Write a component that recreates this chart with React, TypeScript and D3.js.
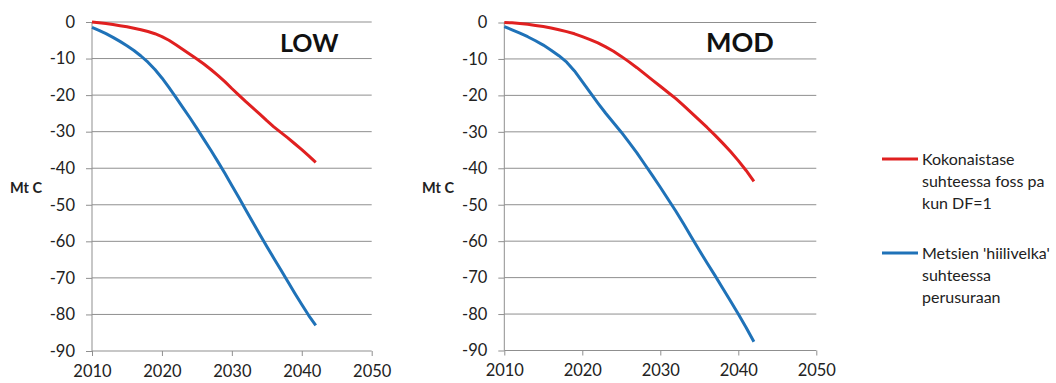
import React, { useEffect, useRef } from 'react'
import { axisBottom, axisLeft, line, scaleLinear, select } from 'd3'

const years = [
  2010, 2011, 2012, 2013, 2014, 2015, 2016, 2017, 2018, 2019, 2020,
  2021, 2022, 2023, 2024, 2025, 2026, 2027, 2028, 2029, 2030, 2031,
  2032, 2033, 2034, 2035, 2036, 2037, 2038, 2039, 2040, 2041, 2042,
]

// LOW scenario
const lowTotal = [
  0, -0.2, -0.4, -0.7, -1.0, -1.3, -1.7, -2.1, -2.6, -3.2, -4.0,
  -5.0, -6.2, -7.5, -8.8, -10.1, -11.5, -13.0, -14.6, -16.3, -18.2, -20.0,
  -21.8, -23.5, -25.2, -27.0, -28.7, -30.2, -31.7, -33.3, -34.9, -36.6, -38.4,
]
const lowDebt = [
  -1.5, -2.3, -3.2, -4.2, -5.3, -6.5, -7.8, -9.3, -11.0, -13.0, -15.3,
  -17.9, -20.6, -23.4, -26.2, -29.1, -32.1, -35.1, -38.2, -41.4, -44.7, -48.0,
  -51.4, -54.8, -58.1, -61.4, -64.6, -67.8, -71.0, -74.2, -77.3, -80.3, -83.0,
]

// MOD scenario
const modTotal = [
  0, -0.1, -0.3, -0.5, -0.8, -1.1, -1.5, -2.0, -2.5, -3.1, -3.9,
  -4.7, -5.6, -6.7, -7.9, -9.3, -10.8, -12.4, -14.1, -15.8, -17.5, -19.2,
  -20.9, -22.8, -24.8, -26.8, -28.8, -30.9, -33.1, -35.4, -37.9, -40.6, -43.6,
]
const modDebt = [
  -1.1, -2.0, -2.9, -3.9, -5.0, -6.2, -7.6, -9.1, -10.9, -13.3, -16.2,
  -19.2, -22.1, -24.9, -27.5, -30.1, -32.9, -35.8, -38.9, -42.0, -45.2, -48.5,
  -51.8, -55.3, -58.9, -62.5, -66.0, -69.4, -72.9, -76.4, -80.0, -83.7, -87.6,
]

const xTicks = [2010, 2020, 2030, 2040, 2050]
const yTicks = [0, -10, -20, -30, -40, -50, -60, -70, -80, -90]

const legendTotal = ['Kokonaistase', 'suhteessa foss pa', 'kun DF=1']
const legendDebt = ["Metsien 'hiilivelka'", 'suhteessa', 'perusuraan']

const RED = '#e02020'
const BLUE = '#1f72b8'
const GRID = '#8f8f8f'
const FONT = 'Lato, "Open Sans", sans-serif'

const App = () => {
  const ref = useRef<SVGSVGElement>(null)

  useEffect(() => {
    const svg = select(ref.current)
    svg.selectAll('*').remove()

    const panel = (title: string, total: number[], debt: number[], x0: number, x1: number, y0: number, y1: number, labelX: number, titleX: number, titleSize: number) => {
      const x = scaleLinear().domain([2010, 2050]).range([x0, x1])
      const y = scaleLinear().domain([0, -90]).range([y0, y1])
      const g = svg.append('g')

      // grid
      g.selectAll('.grid')
        .data(yTicks.filter((d) => d !== -90))
        .enter()
        .append('line')
        .attr('x1', x0)
        .attr('x2', x1)
        .attr('y1', (d) => y(d))
        .attr('y2', (d) => y(d))
        .attr('stroke', GRID)
        .attr('stroke-width', 1)

      const ya = g.append('g')
        .attr('transform', `translate(${x0},0)`)
        .call(axisLeft(y).tickValues(yTicks).tickSize(6).tickPadding(11).tickFormat((d) => String(d)))
      ya.select('.domain').attr('stroke', GRID).attr('d', `M0,${y0}V${y1}`)
      ya.selectAll('line').attr('stroke', GRID)
      ya.selectAll('text').attr('font-size', 16.5).attr('font-family', FONT).attr('fill', '#222')

      const xa = g.append('g')
        .attr('transform', `translate(0,${y1})`)
        .call(axisBottom(x).tickValues(xTicks).tickSize(5).tickPadding(9).tickFormat((d) => String(d)))
      xa.select('.domain').attr('stroke', GRID).attr('d', `M${x0},0H${x1}`)
      xa.selectAll('line').attr('stroke', GRID)
      xa.selectAll('text').attr('font-size', 16.5).attr('font-family', FONT).attr('fill', '#222')

      const mk = line<number>()
        .x((_, i) => x(years[i]))
        .y((d) => y(d))

      g.append('path').attr('d', mk(total)).attr('fill', 'none').attr('stroke', RED).attr('stroke-width', 3).attr('stroke-linejoin', 'round')
      g.append('path').attr('d', mk(debt)).attr('fill', 'none').attr('stroke', BLUE).attr('stroke-width', 3).attr('stroke-linejoin', 'round')

      g.append('text')
        .attr('x', titleX)
        .attr('y', 52)
        .attr('font-size', titleSize)
        .attr('font-weight', 'bold')
        .attr('font-family', FONT)
        .attr('fill', '#111')
        .text(title)

      g.append('text')
        .attr('x', labelX)
        .attr('y', 193)
        .attr('font-size', 14.5)
        .attr('font-weight', 'bold')
        .attr('font-family', FONT)
        .attr('fill', '#222')
        .text('Mt C')
    }

    panel('LOW', lowTotal, lowDebt, 92, 371.7, 22, 351, 10, 280, 25)
    panel('MOD', modTotal, modDebt, 504.3, 816.3, 22.5, 350.5, 422, 706, 27)

    const legend = (lines: string[], color: string, top: number) => {
      const lg = svg.append('g')
      lg.append('line').attr('x1', 882).attr('x2', 918).attr('y1', top).attr('y2', top).attr('stroke', color).attr('stroke-width', 3)
      lg.selectAll('text')
        .data(lines)
        .enter()
        .append('text')
        .attr('x', 922)
        .attr('y', (_, i) => top + 6 + i * 22)
        .attr('font-size', 16)
        .attr('font-family', FONT)
        .attr('fill', '#222')
        .text((d) => d)
    }
    legend(legendTotal, RED, 159)
    legend(legendDebt, BLUE, 253)
  }, [])

  return (
    <svg ref={ref} width={1056} height={383} style={{ position: 'absolute', left: 0, top: 0, background: '#fff' }} />
  )
}

export default App
